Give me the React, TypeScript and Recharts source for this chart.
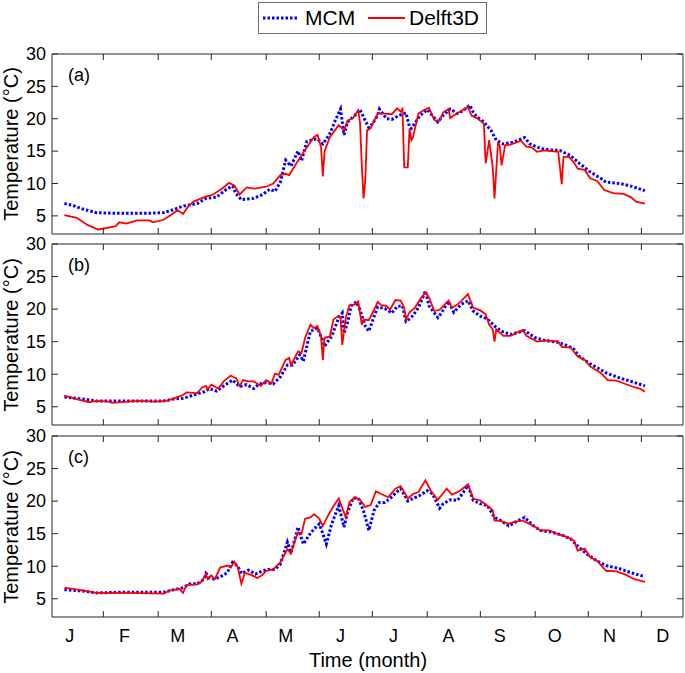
import React from 'react'
import { LineChart, Line, XAxis, YAxis, ReferenceArea } from 'recharts'

// day of year, temperature (°C)
const mcmA: [number, number][] = [
  [7, 6.9], [12, 6.6], [18, 6.0], [25, 5.5], [35, 5.4], [45, 5.4], [55, 5.4], [63, 5.5], [68, 5.9], [74, 6.5],
  [82, 6.9], [87, 7.7], [93, 7.9], [99, 9.2], [102, 9.6], [104, 8.4], [107, 7.5], [114, 7.7], [119, 8.3], [123, 9.1],
  [126, 8.8], [129, 10.2], [132, 13.6], [135, 12.7], [139, 15.0], [141, 13.5], [144, 16.5], [148, 16.8], [150, 16.9],
  [153, 16.1], [157, 17.7], [160, 19.7], [163, 21.5], [165, 17.5], [167, 19.5], [171, 20.5], [174, 21.4], [177, 19.7],
  [179, 18.6], [181, 19.2], [184, 20.5], [185, 21.5], [189, 20.0], [192, 19.9], [196, 20.5], [200, 20.9], [202, 18.7],
  [203, 18.5], [208, 20.5], [212, 21.4], [218, 19.5], [221, 20.5], [225, 21.5], [229, 20.8], [232, 21.2], [236, 22.1],
  [238, 21.0], [240, 20.3], [244, 19.5], [248, 18.2], [251, 16.7], [255, 16.1], [261, 16.4], [267, 17.1], [270, 16.1],
  [276, 15.4], [281, 15.2], [287, 15.1], [293, 14.3], [298, 13.1], [304, 11.8], [310, 10.8], [313, 10.2], [321, 10.0],
  [327, 9.6], [335, 8.9],
]
const delftA: [number, number][] = [
  [7, 5.1], [14, 4.7], [20, 3.6], [26, 2.9], [32, 3.2], [36, 3.4], [38, 4.0], [42, 3.8], [48, 4.3], [55, 4.3],
  [57, 4.0], [63, 4.4], [67, 5.1], [71, 5.9], [74, 5.3], [77, 6.5], [80, 7.2], [86, 7.9], [91, 8.3], [96, 9.2],
  [100, 10.1], [103, 9.7], [106, 8.3], [110, 9.4], [114, 9.2], [121, 9.5], [125, 10.0], [129, 11.3], [132, 11.5],
  [134, 11.3], [138, 13.1], [144, 15.6], [148, 17.2], [150, 17.5], [152, 15.6], [153, 11.1], [154, 15.0], [157, 17.2],
  [159, 17.9], [162, 19.0], [165, 18.2], [167, 19.7], [170, 20.1], [173, 21.3], [174, 19.5], [175, 13.0], [176, 7.7],
  [177, 10.5], [178, 18.2], [180, 18.5], [182, 19.7], [184, 20.8], [188, 20.8], [192, 20.7], [195, 21.6], [197, 21.1],
  [198, 21.5], [199, 12.5], [201, 12.5], [202, 18.5], [203, 16.7], [204, 17.2], [207, 20.8], [210, 21.3], [213, 21.7],
  [216, 19.8], [219, 19.7], [221, 21.0], [224, 21.5], [225, 20.1], [227, 20.5], [230, 21.0], [233, 21.5], [235, 21.8],
  [237, 20.5], [240, 20.1], [242, 19.7], [244, 19.2], [245, 13.1], [247, 16.7], [249, 12.5], [250, 7.7], [252, 16.4],
  [253, 15.8], [254, 12.8], [256, 15.9], [259, 16.0], [265, 16.6], [268, 15.7], [271, 15.6], [274, 14.9], [278, 15.1],
  [286, 14.9], [288, 9.9], [289, 14.1], [292, 14.1], [295, 13.2], [297, 12.3], [301, 12.1], [304, 10.8], [308, 10.4],
  [312, 9.0], [317, 8.5], [323, 8.4], [327, 7.9], [330, 7.2], [335, 6.9],
]

const mcmB: [number, number][] = [
  [7, 6.5], [17, 6.2], [25, 5.9], [40, 5.9], [55, 5.9], [63, 5.9], [69, 6.2], [74, 6.3], [80, 6.8], [86, 7.3],
  [89, 7.8], [93, 7.4], [97, 8.2], [102, 9.1], [106, 8.1], [110, 8.4], [114, 7.8], [117, 8.5], [121, 8.7], [125, 8.5],
  [129, 9.6], [133, 11.4], [136, 11.4], [140, 13.0], [142, 12.0], [146, 16.6], [150, 17.1], [153, 15.1], [154, 14.3],
  [158, 15.8], [162, 18.7], [164, 19.4], [165, 16.3], [167, 17.9], [169, 20.5], [172, 21.1], [174, 19.9], [177, 17.4],
  [179, 16.6], [182, 18.9], [184, 20.3], [188, 20.1], [192, 19.4], [195, 20.4], [198, 20.5], [200, 18.1], [203, 18.7],
  [207, 20.2], [211, 22.8], [213, 20.5], [218, 18.7], [220, 19.4], [224, 21.2], [227, 19.5], [231, 20.7], [235, 21.3],
  [238, 19.7], [242, 18.9], [246, 18.5], [250, 17.4], [254, 16.6], [259, 16.1], [267, 16.7], [273, 15.6], [278, 15.2],
  [286, 14.9], [292, 14.3], [295, 13.8], [298, 12.7], [304, 11.6], [310, 10.7], [313, 10.2], [321, 9.4], [327, 8.9],
  [335, 8.2],
]
const delftB: [number, number][] = [
  [7, 6.7], [15, 6.1], [21, 5.7], [25, 5.9], [32, 5.8], [34, 5.6], [42, 5.8], [50, 5.9], [58, 5.8], [65, 5.9],
  [70, 6.4], [74, 6.8], [76, 7.2], [82, 7.1], [85, 8.0], [87, 8.2], [88, 7.7], [90, 8.4], [94, 7.8], [97, 8.9],
  [101, 9.8], [102, 9.6], [104, 9.4], [106, 8.2], [108, 9.1], [111, 8.9], [114, 8.9], [118, 8.2], [121, 9.1], [124, 8.6],
  [126, 10.1], [128, 9.9], [132, 12.2], [134, 12.5], [135, 11.4], [139, 13.5], [141, 13.3], [143, 15.6], [146, 17.6],
  [148, 17.1], [150, 17.4], [152, 15.8], [153, 12.2], [154, 15.6], [157, 15.8], [159, 18.4], [162, 19.0], [163, 18.7],
  [164, 14.5], [166, 18.7], [168, 20.6], [171, 20.7], [173, 21.2], [175, 17.6], [176, 18.4], [179, 18.3], [182, 19.9],
  [184, 21.1], [186, 20.6], [189, 20.5], [191, 19.9], [194, 21.4], [197, 21.3], [199, 20.2], [200, 18.4], [202, 19.5],
  [205, 20.2], [208, 21.5], [211, 22.6], [213, 21.8], [216, 19.7], [219, 19.9], [224, 21.3], [226, 20.2], [229, 20.7],
  [231, 21.2], [235, 22.3], [238, 20.2], [242, 19.8], [245, 19.2], [247, 17.6], [249, 16.9], [250, 15.0], [251, 16.9],
  [255, 15.9], [259, 15.9], [266, 16.8], [268, 15.9], [274, 15.0], [280, 15.2], [286, 15.0], [288, 14.2], [293, 14.1],
  [297, 12.7], [301, 12.2], [304, 11.2], [310, 10.2], [314, 9.1], [319, 9.0], [324, 8.5], [329, 8.0], [332, 7.8],
  [335, 7.3],
]

const mcmC: [number, number][] = [
  [7, 6.4], [17, 6.2], [25, 5.9], [40, 6.0], [55, 6.0], [63, 6.0], [69, 6.4], [74, 6.7], [78, 7.3], [82, 7.3],
  [86, 8.0], [87, 8.9], [89, 8.2], [92, 8.0], [96, 8.5], [99, 9.0], [102, 10.6], [105, 10.0], [107, 8.9], [111, 9.4],
  [115, 8.8], [119, 9.3], [122, 9.5], [126, 9.5], [129, 10.3], [133, 13.7], [135, 12.1], [137, 13.9], [139, 16.0],
  [142, 13.4], [145, 14.7], [148, 15.7], [151, 16.5], [153, 15.0], [155, 13.4], [158, 16.5], [162, 19.3], [165, 16.0],
  [167, 18.3], [170, 20.4], [173, 20.5], [176, 18.5], [179, 15.5], [182, 18.6], [185, 19.8], [188, 19.8], [191, 20.4],
  [194, 21.2], [197, 21.9], [199, 21.0], [201, 20.0], [204, 20.4], [208, 20.9], [212, 21.6], [215, 21.1], [219, 18.9],
  [221, 19.6], [225, 20.2], [229, 20.1], [232, 21.2], [235, 22.4], [238, 20.1], [242, 19.6], [246, 19.3], [250, 17.5],
  [253, 17.1], [258, 16.2], [262, 16.8], [267, 17.5], [272, 16.2], [276, 15.5], [283, 15.2], [289, 14.7], [293, 14.2],
  [297, 13.1], [302, 11.9], [308, 10.8], [313, 10.1], [321, 9.6], [327, 9.0], [335, 8.4],
]
const delftC: [number, number][] = [
  [7, 6.7], [17, 6.3], [25, 5.9], [42, 5.9], [63, 5.8], [67, 6.3], [72, 6.5], [74, 5.9], [76, 7.1], [82, 7.2],
  [84, 7.5], [87, 8.8], [88, 8.0], [90, 8.6], [92, 8.0], [95, 9.8], [99, 10.1], [101, 9.8], [103, 10.7], [105, 9.8],
  [107, 7.3], [109, 9.0], [113, 8.6], [116, 8.2], [119, 8.7], [121, 9.3], [125, 9.5], [129, 10.6], [133, 12.6],
  [135, 11.9], [137, 13.7], [139, 15.2], [141, 15.0], [143, 17.3], [146, 17.5], [148, 18.0], [151, 17.3], [153, 16.2],
  [156, 17.8], [159, 19.2], [162, 20.4], [166, 17.5], [168, 19.8], [171, 20.6], [174, 20.2], [177, 19.1], [180, 19.4],
  [183, 21.5], [186, 21.1], [190, 20.6], [194, 21.9], [197, 22.3], [199, 21.4], [201, 20.4], [204, 21.1], [207, 21.4],
  [211, 23.2], [214, 21.6], [218, 20.2], [220, 20.9], [223, 21.9], [226, 21.0], [230, 21.5], [232, 21.9], [235, 22.6],
  [238, 20.4], [242, 20.1], [246, 19.3], [249, 18.6], [250, 17.0], [253, 17.0], [258, 16.5], [261, 16.8], [266, 17.0],
  [272, 16.2], [276, 15.5], [281, 15.5], [286, 14.9], [291, 14.5], [295, 13.9], [297, 12.4], [301, 12.7], [304, 11.4],
  [308, 10.8], [313, 9.3], [319, 9.2], [324, 8.7], [329, 8.0], [335, 7.6],
]

const monthLabels = ['J', 'F', 'M', 'A', 'M', 'J', 'J', 'A', 'S', 'O', 'N', 'D']
const labelDays = [10, 41, 71, 102, 132, 163, 193, 224, 253, 284, 315, 345]
const tickDays = [29, 60, 90, 121, 151, 181, 212, 242, 273, 303, 333]
const tempTicks = [5, 10, 15, 20, 25, 30]

const X_MAX = 356.5
const Y_MIN = 2.2
const Y_MAX = 30
const W = 685
const PLOT_L = 52
const PLOT_R = 683
const AX = '#262626'
const FONT = '"Liberation Sans", Arial, Helvetica, sans-serif'

const toRows = (pts: [number, number][]) => pts.map(([day, t]) => ({ day, t }))

interface PanelProps {
  top: number
  height: number
  plotTop: number
  plotBottom: number
  mcm: [number, number][]
  delft: [number, number][]
  tag: string
  showMonths?: boolean
}

function Panel({ top, height, plotTop, plotBottom, mcm, delft, tag, showMonths }: PanelProps) {
  const mt = plotTop - top
  const pb = plotBottom - top
  const xh = height - pb

  const xTick = (props: any) => {
    const { x, payload } = props
    if (tickDays.includes(payload.value)) {
      return (
        <g>
          <line x1={x} x2={x} y1={pb} y2={pb - 6} stroke={AX} />
          <line x1={x} x2={x} y1={mt} y2={mt + 6} stroke={AX} />
        </g>
      )
    }
    const i = labelDays.indexOf(payload.value)
    return (
      <text x={x} y={pb + 19} dy="0.35em" textAnchor="middle" fontSize={18} fill="#000" fontFamily={FONT}>
        {monthLabels[i]}
      </text>
    )
  }

  const yTick = (props: any) => {
    const { y, payload } = props
    return (
      <g>
        <line x1={PLOT_L} x2={PLOT_L + 6} y1={y} y2={y} stroke={AX} />
        <line x1={PLOT_R} x2={PLOT_R - 6} y1={y} y2={y} stroke={AX} />
        <text x={PLOT_L - 6} y={y} dy="0.35em" textAnchor="end" fontSize={18} fill="#000" fontFamily={FONT}>
          {payload.value}
        </text>
      </g>
    )
  }

  return (
    <div style={{ position: 'absolute', left: 0, top, width: W, height }}>
      <LineChart width={W} height={height} margin={{ top: mt, right: W - PLOT_R, bottom: 0, left: 0 }}>
        <XAxis
          type="number"
          dataKey="day"
          domain={[0, X_MAX]}
          allowDataOverflow
          ticks={showMonths ? [...tickDays, ...labelDays] : tickDays}
          interval={0}
          axisLine={false}
          tickLine={false}
          height={xh}
          tick={xTick}
        />
        <YAxis
          type="number"
          domain={[Y_MIN, Y_MAX]}
          allowDataOverflow
          ticks={tempTicks}
          interval={0}
          axisLine={false}
          tickLine={false}
          width={PLOT_L}
          tick={yTick}
        />
        <ReferenceArea x1={0} x2={X_MAX} y1={Y_MIN} y2={Y_MAX} fill="none" stroke={AX} strokeWidth={1} ifOverflow="visible" />
        <Line
          data={toRows(mcm)}
          dataKey="t"
          name="MCM"
          stroke="#0000ff"
          strokeWidth={3}
          strokeDasharray="2.5 2"
          dot={false}
          isAnimationActive={false}
        />
        <Line
          data={toRows(delft)}
          dataKey="t"
          name="Delft3D"
          stroke="#ff0000"
          strokeWidth={1.8}
          dot={false}
          isAnimationActive={false}
        />
      </LineChart>
      <div style={{ position: 'absolute', left: 68, top: mt + 11, fontSize: 18, fontFamily: FONT, lineHeight: '20px' }}>
        {tag}
      </div>
    </div>
  )
}

const yTitleStyle = (cy: number): React.CSSProperties => ({
  position: 'absolute',
  left: 11,
  top: cy,
  transform: 'translate(-50%, -50%) rotate(-90deg)',
  whiteSpace: 'nowrap',
  fontSize: 20,
  fontFamily: FONT,
  lineHeight: '22px',
})

export default function App() {
  return (
    <div style={{ position: 'absolute', left: 0, top: 0, width: W, height: 673, background: '#fff' }}>
      <Panel top={0} height={240} plotTop={54} plotBottom={234} mcm={mcmA} delft={delftA} tag="(a)" />
      <Panel top={228} height={203} plotTop={244} plotBottom={425} mcm={mcmB} delft={delftB} tag="(b)" />
      <Panel top={420} height={253} plotTop={436} plotBottom={617} mcm={mcmC} delft={delftC} tag="(c)" showMonths />

      <div style={yTitleStyle(144)}>Temperature (°C)</div>
      <div style={yTitleStyle(335)}>Temperature (°C)</div>
      <div style={yTitleStyle(527)}>Temperature (°C)</div>

      <div
        style={{
          position: 'absolute',
          left: 368,
          top: 660,
          transform: 'translate(-50%, -50%)',
          whiteSpace: 'nowrap',
          fontSize: 20,
          fontFamily: FONT,
        }}
      >
        Time (month)
      </div>

      {/* legend */}
      <div
        style={{
          position: 'absolute',
          left: 258,
          top: 2,
          width: 229,
          height: 32,
          border: '1px solid #6e6e6e',
          boxSizing: 'border-box',
          background: '#fff',
        }}
      >
        <svg width={227} height={30} style={{ position: 'absolute', left: 0, top: 0 }}>
          <line x1={4} x2={40} y1={15} y2={15} stroke="#0000ff" strokeWidth={3} strokeDasharray="2.5 2" />
          <text x={46} y={15} dy="0.35em" fontSize={21} fontFamily={FONT} fill="#000">MCM</text>
          <line x1={109} x2={146} y1={15} y2={15} stroke="#ff0000" strokeWidth={1.8} />
          <text x={150} y={15} dy="0.35em" fontSize={21} fontFamily={FONT} fill="#000">Delft3D</text>
        </svg>
      </div>
    </div>
  )
}
